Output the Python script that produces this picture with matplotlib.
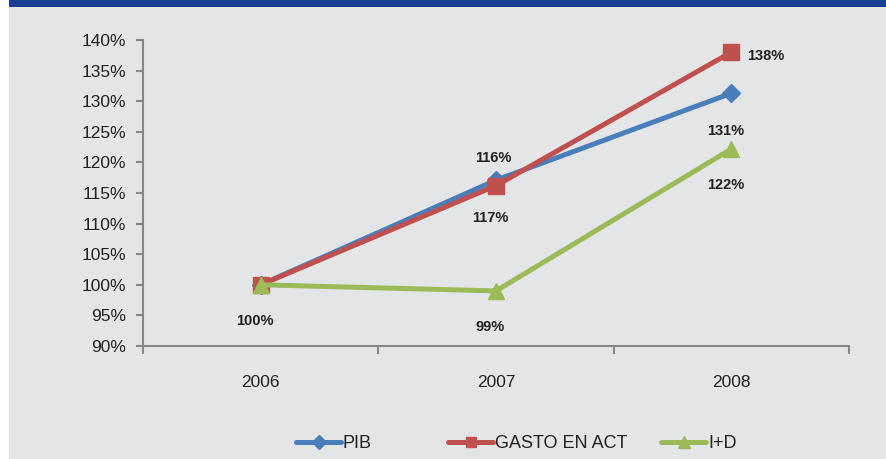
import matplotlib
matplotlib.use("Agg")
import matplotlib.pyplot as plt
from matplotlib.patches import Rectangle
from matplotlib.ticker import FuncFormatter

years = ["2006", "2007", "2008"]
pib = [100.0, 117.1, 131.3]
gasto = [100.0, 116.2, 138.0]
imasd = [100.0, 99.0, 122.2]
series_names = ["PIB", "GASTO EN ACT", "I+D"]

plt.rcParams['font.family'] = ['Liberation Sans Narrow', 'Liberation Sans', 'DejaVu Sans']

W, H = 887, 459
fig = plt.figure(figsize=(W / 100, H / 100), dpi=100, facecolor="white")
bg = "#E4E5E7"
fig.patches.append(Rectangle((9 / W, 0), 1 - 9 / W, 1, transform=fig.transFigure,
                             facecolor=bg, edgecolor="none", zorder=-3))
fig.patches.append(Rectangle((9 / W, 1 - 7 / H), 1 - 9 / W, 7 / H, transform=fig.transFigure,
                             facecolor="#1B3F94", edgecolor="none", zorder=-2))

ax = fig.add_axes([143 / W, (H - 346) / H, (849 - 143) / W, (346 - 40) / H])
ax.set_facecolor("none")

x = list(range(len(years)))
blue, red, green = "#4A7EBB", "#C0504D", "#9BBB59"
lw = 3.6
l1, = ax.plot(x, pib, color=blue, lw=lw, marker="D", ms=9.5, zorder=3, solid_capstyle="round")
l2, = ax.plot(x, gasto, color=red, lw=lw, marker="s", ms=11, zorder=4, solid_capstyle="round")
l3, = ax.plot(x, imasd, color=green, lw=lw, marker="^", ms=12, zorder=5, solid_capstyle="round")

ax.set_xlim(-0.5, 2.5)
ax.set_ylim(90, 140)
ax.set_yticks(range(90, 141, 5))
ax.yaxis.set_major_formatter(FuncFormatter(lambda v, p: f"{v:.0f}%"))
ax.set_xticks(x)
ax.set_xticklabels(years)
ax.set_xticks([-0.5, 0.5, 1.5, 2.5], minor=True)
ax.tick_params(axis="x", which="major", length=0, pad=21, labelsize=12.5, colors="#222222")
ax.tick_params(axis="x", which="minor", length=6, width=1.5, color="#868686", direction="out")
ax.tick_params(axis="y", length=5, width=1.5, color="#868686", labelsize=12.5,
               labelcolor="#222222", pad=7)
for s in ["top", "right"]:
    ax.spines[s].set_visible(False)
for s in ["left", "bottom"]:
    ax.spines[s].set_color("#868686")
    ax.spines[s].set_linewidth(1.5)

lab = dict(fontsize=10.5, fontweight="bold", color="#222222", ha="center", va="center")
# I+D labels below
for xi, v in zip(x, imasd):
    ax.annotate(f"{v:.0f}%", (xi, v), xytext=(-4, -26), textcoords="offset points", **lab)
# PIB labels below (2007, 2008)
for xi, v in list(zip(x, pib))[1:]:
    ax.annotate(f"{v:.0f}%", (xi, v), xytext=(-4, -27), textcoords="offset points", **lab)
# GASTO labels: above at 2007, right at 2008
ax.annotate(f"{gasto[1]:.0f}%", (x[1], gasto[1]), xytext=(-2, 20), textcoords="offset points", **lab)
ax.annotate(f"{gasto[2]:.0f}%", (x[2], gasto[2]), xytext=(25, -3), textcoords="offset points", **lab)

# separate legend entries, placed as in the reference
leg_x = [296, 448, 661]
for handle, name, lx in zip([l1, l2, l3], series_names, leg_x):
    fig.legend([handle], [name], loc="center left", bbox_to_anchor=(lx / W, 1 - 444 / H),
               frameon=False, fontsize=13, handlelength=2.5, handletextpad=0.1,
               borderpad=0, borderaxespad=0, markerscale=0.7, labelcolor="#222222")

fig.savefig("out.png", dpi=100, facecolor="white")
